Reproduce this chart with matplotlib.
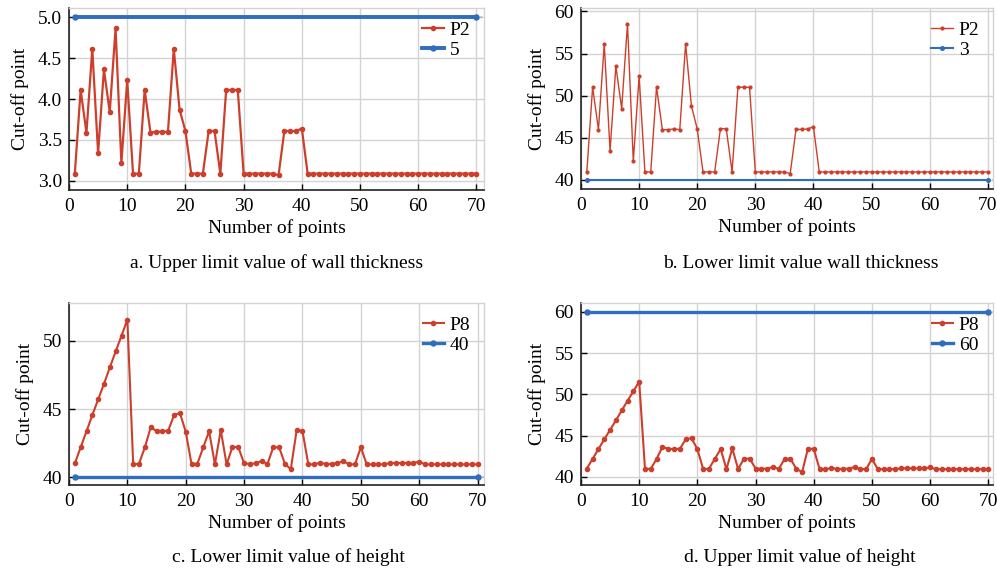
import numpy as np
import matplotlib
matplotlib.use("Agg")
import matplotlib.pyplot as plt

plt.rcParams['font.family'] = ['Liberation Serif', 'DejaVu Serif']
plt.rcParams['mathtext.fontset'] = 'stix'

# ---- data ----
points = list(range(1, 71))

p2_upper = [3.09, 4.11, 3.59, 4.61, 3.34, 4.36, 3.84, 4.86, 3.22, 4.23,
            3.09, 3.09, 4.11, 3.59, 3.60, 3.60, 3.60, 4.61, 3.87, 3.61,
            3.09, 3.09, 3.09, 3.61, 3.61, 3.09, 4.11, 4.11, 4.11, 3.09,
            3.09, 3.09, 3.09, 3.09, 3.09, 3.07, 3.61, 3.61, 3.61, 3.64,
            3.09, 3.09, 3.09, 3.09, 3.09, 3.09, 3.09, 3.09, 3.09, 3.09,
            3.09, 3.09, 3.09, 3.09, 3.09, 3.09, 3.09, 3.09, 3.09, 3.09,
            3.09, 3.09, 3.09, 3.09, 3.09, 3.09, 3.09, 3.09, 3.09, 3.09]
upper_wall_limit = [5.0] * 70

p2_lower = [40.95, 51.03, 45.97, 56.13, 43.48, 53.52, 48.46, 58.54, 42.21, 52.33,
            40.95, 40.95, 51.03, 45.97, 45.97, 46.05, 45.97, 56.13, 48.81, 46.05,
            40.95, 40.95, 40.95, 46.10, 46.05, 40.95, 51.00, 51.00, 51.00, 40.95,
            40.95, 40.95, 40.95, 40.95, 40.95, 40.75, 46.00, 46.00, 46.05, 46.32,
            40.95, 40.95, 40.95, 40.95, 40.95, 40.95, 40.95, 40.95, 40.95, 40.95,
            40.95, 40.95, 40.95, 40.95, 40.95, 40.95, 40.95, 40.95, 40.95, 40.95,
            40.95, 40.95, 40.95, 40.95, 40.95, 40.95, 40.95, 40.95, 40.95, 40.95]
lower_wall_limit = [40.0] * 70

p8 = [41.02, 42.20, 43.37, 44.56, 45.70, 46.85, 48.05, 49.22, 50.37, 51.54,
      40.95, 41.00, 42.20, 43.66, 43.39, 43.39, 43.42, 44.56, 44.71, 43.34,
      40.95, 41.00, 42.20, 43.37, 40.95, 43.46, 40.95, 42.22, 42.22, 41.02,
      40.98, 41.02, 41.20, 40.98, 42.20, 42.20, 40.98, 40.60, 43.44, 43.39,
      40.95, 40.95, 41.07, 40.98, 40.98, 41.02, 41.20, 40.95, 40.95, 42.20,
      40.95, 40.95, 40.95, 40.95, 41.05, 41.05, 41.05, 41.05, 41.05, 41.15,
      40.95, 40.95, 40.95, 40.95, 40.95, 40.95, 40.95, 40.95, 40.95, 40.95]
lower_height_limit = [40.0] * 70
upper_height_limit = [60.0] * 70

panels = [
    dict(y=p2_upper, ref=upper_wall_limit, lab='P2', rlab='5',
         caption='a. Upper limit value of wall thickness',
         ylim=(2.89, 5.11), yticks=[3.0, 3.5, 4.0, 4.5, 5.0], yfmt='{:.1f}',
         xlim=(0, 71.3), box=(69, 8, 484, 190), cap=(277, 263),
         lw=1.6, ms=3.0, rlw=2.8),
    dict(y=p2_lower, ref=lower_wall_limit, lab='P2', rlab='3',
         caption='b. Lower limit value wall thickness',
         ylim=(38.93, 60.4), yticks=[40, 45, 50, 55, 60], yfmt='{:d}',
         xlim=(0, 70.9), box=(581, 8, 993, 189), cap=(801, 263),
         lw=1.0, ms=2.0, rlw=1.5),
    dict(y=p8, ref=lower_height_limit, lab='P8', rlab='40',
         caption='c. Lower limit value of height',
         ylim=(39.44, 52.76), yticks=[40, 45, 50], yfmt='{:d}',
         xlim=(0, 71.1), box=(69, 303, 484, 485), cap=(288, 557),
         lw=1.5, ms=3.0, rlw=2.4),
    dict(y=p8, ref=upper_height_limit, lab='P8', rlab='60',
         caption='d. Upper limit value of height',
         ylim=(39.03, 61.05), yticks=[40, 45, 50, 55, 60], yfmt='{:d}',
         xlim=(0, 70.8), box=(581, 303, 993, 485), cap=(800, 557),
         lw=1.5, ms=3.0, rlw=2.4),
]

W, H = 997, 572
fig = plt.figure(figsize=(W / 100, H / 100), dpi=100)
red = '#cc3f2c'
blue = '#2f6dbd'
grid_c = '#d3d3d3'
fs = 14

for p in panels:
    l, t, r, b = p['box']
    ax = fig.add_axes([l / W, 1 - b / H, (r - l) / W, (b - t) / H])
    ax.plot(points, p['y'], color=red, lw=p['lw'], marker='o', ms=p['ms'],
            label=p['lab'], zorder=3)
    ax.plot(points, p['ref'], color=blue, lw=p['rlw'], marker='o',
            ms=p['ms'] + 0.6, markevery=[0, len(points) - 1],
            label=p['rlab'], zorder=3)
    ax.plot([points[-1], p['xlim'][1]], [p['ref'][-1]] * 2, color=blue,
            lw=1.2, ls=':', alpha=0.45, zorder=2)
    ax.set_xlim(*p['xlim'])
    ax.set_ylim(*p['ylim'])
    ax.set_xticks([0, 10, 20, 30, 40, 50, 60, 70])
    ax.set_yticks(p['yticks'])
    ax.set_yticklabels([p['yfmt'].format(v) for v in p['yticks']])
    ax.grid(True, color=grid_c, lw=1.0, zorder=0)
    ax.set_axisbelow(True)
    for s in ['top', 'right']:
        ax.spines[s].set_color(grid_c)
        ax.spines[s].set_linewidth(1.0)
    for s in ['left', 'bottom']:
        ax.spines[s].set_color('#222222')
        ax.spines[s].set_linewidth(1.2)
    ax.tick_params(direction='in', length=4, width=1.0, labelsize=fs,
                   top=False, right=False, pad=5)
    ax.tick_params(axis='x', pad=6)
    ax.set_xlabel('Number of points', fontsize=fs, labelpad=3)
    ax.set_ylabel('Cut-off point', fontsize=fs, labelpad=6)
    ax.legend(loc='upper right', frameon=False, fontsize=fs,
              handlelength=1.1, handletextpad=0.3, labelspacing=0.1,
              borderaxespad=0.3)
    fig.text(p['cap'][0] / W, 1 - p['cap'][1] / H, p['caption'],
             ha='center', va='center', fontsize=fs)

fig.savefig('out.png', dpi=100)
